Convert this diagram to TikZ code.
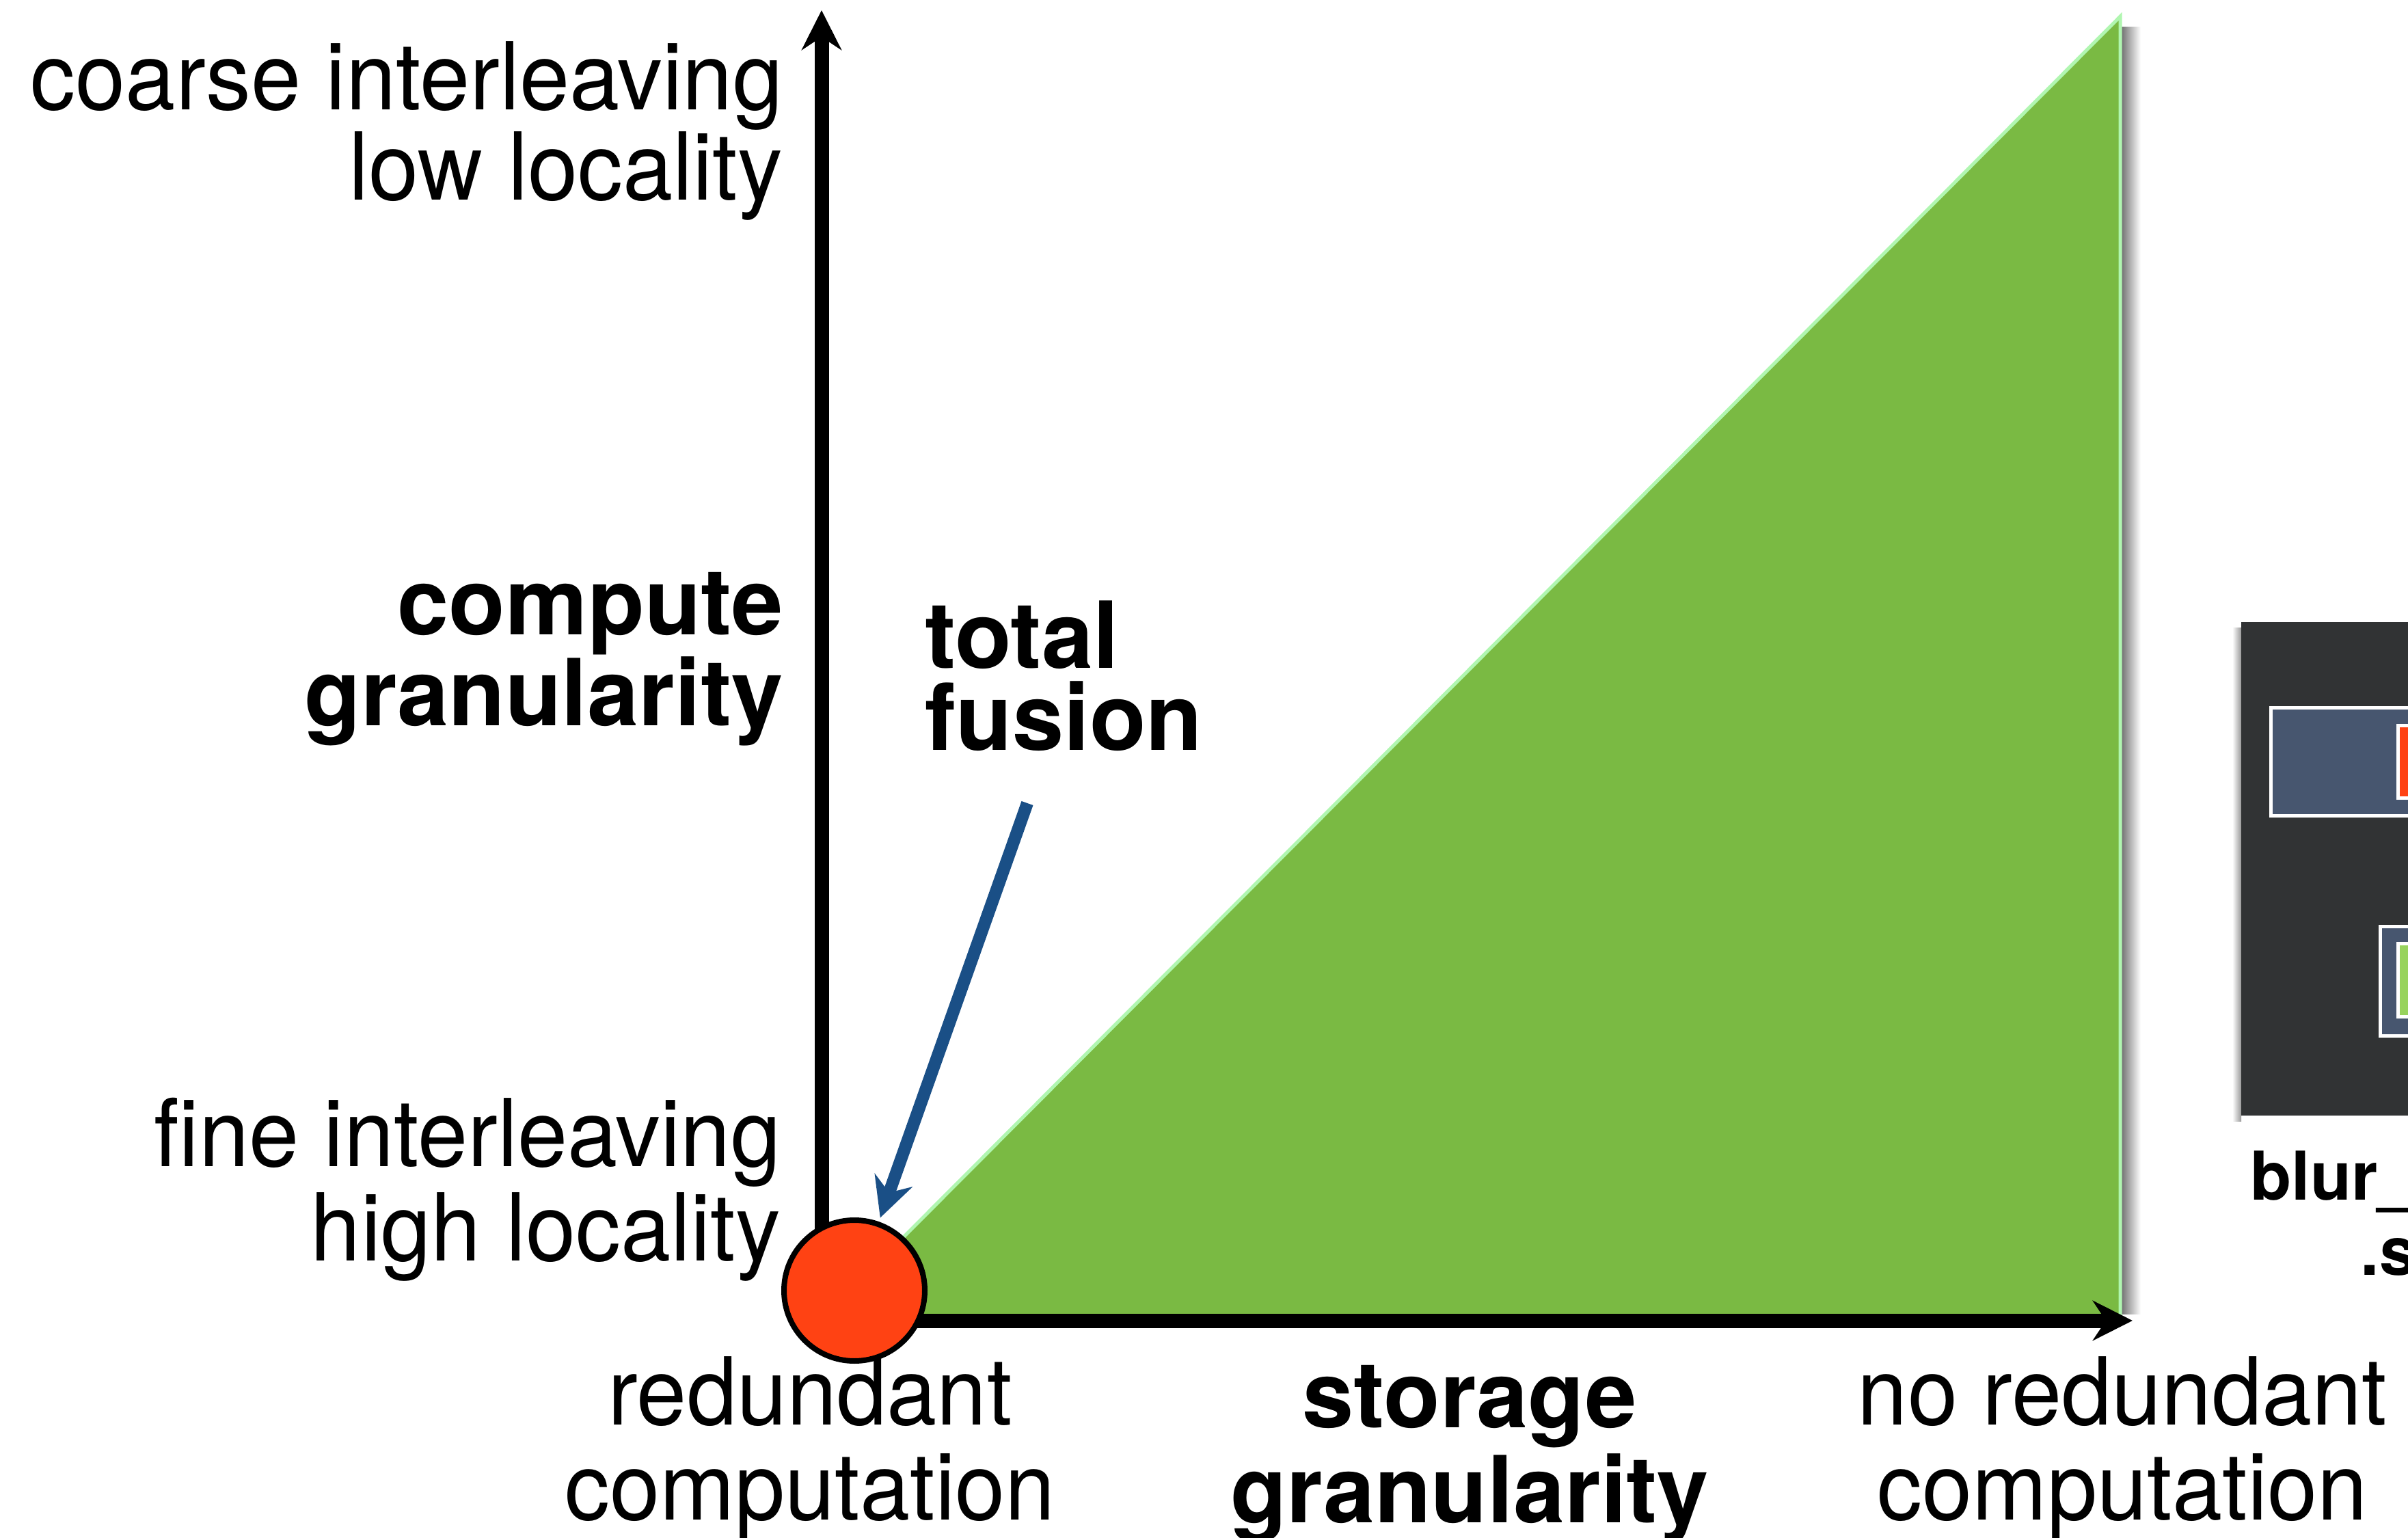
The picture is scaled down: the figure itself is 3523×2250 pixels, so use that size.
\documentclass[tikz,border=0pt]{standalone}
\usepackage{fontspec}
\setmainfont{TeX Gyre Heros}
\newfontfamily\thinfont{TeX Gyre Heros}[FakeStretch=0.96]
\usetikzlibrary{positioning, arrows.meta}

\definecolor{fusegreen}{RGB}{122,186,67}
\definecolor{rimgreen}{RGB}{176,246,176}
\definecolor{dotred}{RGB}{255,66,19}
\definecolor{hintblue}{RGB}{26,79,134}
\definecolor{shotgray}{RGB}{49,51,52}
\definecolor{panelblue}{RGB}{71,86,111}
\definecolor{panelgreen}{RGB}{152,211,93}

\begin{document}
\begin{tikzpicture}[x=0.1mm, y=-0.1mm, >={Stealth[length=5.8mm, width=5.8mm, inset=1.9mm]}]

\tikzset{
  thinlbl/.style={font=\thinfont\fontsize{39}{#1}\selectfont, inner sep=0pt},
  boldlbl/.style={font=\bfseries\fontsize{38.5}{#1}\selectfont, inner sep=0pt},
  shotlbl/.style={font=\bfseries\fontsize{28}{31}\selectfont, inner sep=0pt},
  axis/.style={line width=2.1mm, ->},
  hint/.style={line width=1.8mm, draw=hintblue, ->},
  fusedot/.style={circle, draw, line width=0.8mm, fill=dotred, minimum size=20.6mm, inner sep=0pt, outer sep=1mm},
  panel/.style={draw=white, line width=0.5mm, fill=panelblue},
}

\useasboundingbox (0,0) rectangle (3523,2250);

\coordinate (origin) at (1202,1932);
\coordinate (ytop) at (1202,15);
\coordinate (xend) at (3120,1932);

\shade[left color=black!55, right color=white] (3104,40) rectangle (3132,1922);
\filldraw[fill=fusegreen, draw=rimgreen, line width=0.5mm] (1204,1928) -- (3102,24) -- (3102,1928) -- cycle;

\draw[axis] (origin) -- (ytop);
\draw[axis] (origin) -- (xend);

\node[fusedot] (dot) at (1250,1888) {};
\coordinate (hinttail) at (1503,1175);
\draw[hint] (hinttail) -- (dot);

\node[thinlbl=37.8pt, align=right, anchor=base east] (coarse) at (1146,293) {coarse interleaving\\low locality};
\node[boldlbl=37.6pt, align=right, anchor=base east] (compute) at (1146,1061) {compute\\granularity};
\node[thinlbl=39pt, align=right, anchor=base east] (fine) at (1143,1844) {fine interleaving\\high locality};
\node[boldlbl=33.9pt, align=left, anchor=base west] (fusion) at (1353,1097) {total\\fusion};

\node[thinlbl=39.3pt, align=center, anchor=base] (redundant) at (1185,2223) {redundant\\computation};
\node[boldlbl=39.5pt, align=center, anchor=base] (storage) at (2150,2227) {storage\\granularity};
\node[thinlbl=39.3pt, align=center, anchor=base] (noredundant) at (3105,2223) {no redundant\\computation};

\shade[left color=white, right color=black!40] (3266,918) rectangle (3279,1640);
\fill[shotgray] (3279,910) rectangle (3530,1632);
\draw[panel] (3322,1035) rectangle (3540,1193);
\draw[panel, fill=dotred] (3508,1061) rectangle (3540,1167);
\draw[panel] (3482,1355) rectangle (3540,1515);
\draw[panel, fill=panelgreen] (3508,1380) rectangle (3540,1487);

\node[shotlbl, anchor=base west] (shotname) at (3292,1755) {blur\_};
\node[shotlbl, anchor=base west] (shotcall) at (3453,1865) {.s};

\end{tikzpicture}
\end{document}
